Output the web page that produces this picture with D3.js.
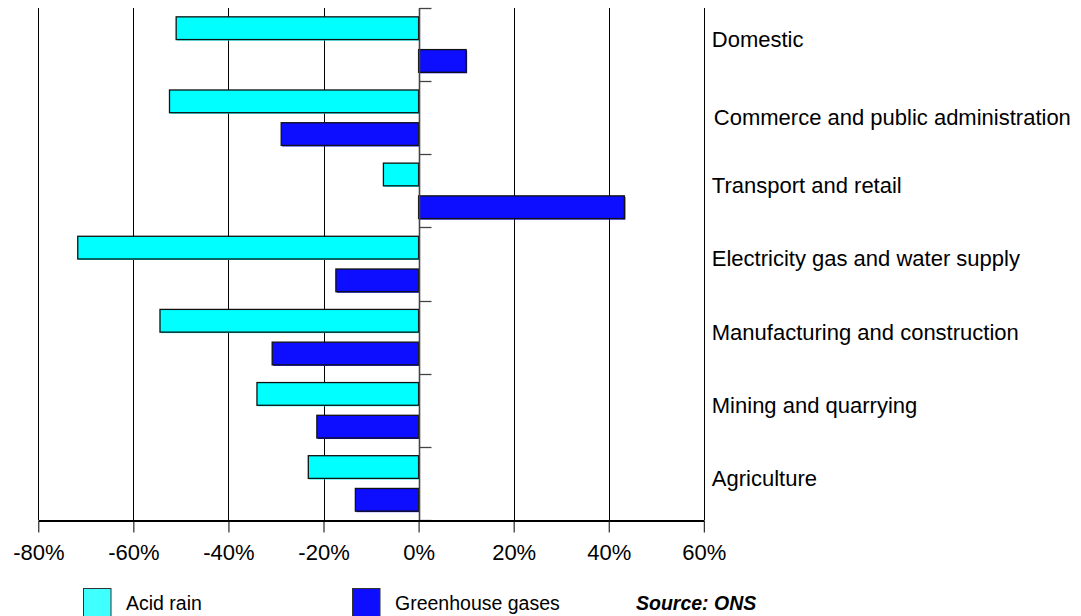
<!DOCTYPE html>
<html>
<head>
<meta charset="utf-8">
<script src="https://cdn.jsdelivr.net/npm/d3@7"></script>
<style>
  html, body { margin: 0; padding: 0; background: #fff; }
  svg { display: block; font-family: "Liberation Sans", Arial, sans-serif; }
</style>
</head>
<body>
<svg id="chart" width="1081" height="616"></svg>
<script>
// Percentage change in emissions by sector
const categories = [
  "Domestic",
  "Commerce and public administration",
  "Transport and retail",
  "Electricity gas and water supply",
  "Manufacturing and construction",
  "Mining and quarrying",
  "Agriculture"
];
const seriesNames = ["Acid rain", "Greenhouse gases"];
const acidRain = [-51, -52.4, -7.4, -71.7, -54.4, -34, -23.2];
const greenhouseGases = [10, -28.9, 43.3, -17.4, -30.8, -21.4, -13.3];
const xTicks = [-80, -60, -40, -20, 0, 20, 40, 60];
const sourceText = "Source: ONS";

const colors = { "Acid rain": "#00FFFF", "Greenhouse gases": "#0D0DFF" };
const swatchColors = { "Acid rain": "#40FFFF", "Greenhouse gases": "#0D0DFF" };

const svg = d3.select("#chart");
const plotTop = 8, plotBottom = 520, plotLeft = 38.3, plotRight = 703.8;

const x = d3.scaleLinear().domain([-80, 60]).range([plotLeft, plotRight]);
const y0 = d3.scaleBand().domain(categories).range([plotTop, plotBottom]).padding(0);
const y1 = d3.scaleBand().domain(seriesNames).range([0, y0.bandwidth()])
  .paddingInner(0.306).paddingOuter(0.27);

const rows = categories.map((c, i) => ({
  category: c,
  values: [
    { series: "Acid rain", value: acidRain[i] },
    { series: "Greenhouse gases", value: greenhouseGases[i] }
  ]
}));

// vertical gridlines
svg.append("g").selectAll("line").data(xTicks.filter(d => d !== 0)).join("line")
  .attr("x1", d => Math.round(x(d)) + 0.5).attr("x2", d => Math.round(x(d)) + 0.5)
  .attr("y1", plotTop).attr("y2", plotBottom)
  .attr("stroke", "#000").attr("stroke-width", 1);

// bars with a slight offset shade
const groups = svg.append("g").selectAll("g").data(rows).join("g")
  .attr("transform", d => `translate(0,${y0(d.category)})`);

groups.selectAll("rect.shade").data(d => d.values).join("rect")
  .attr("class", "shade")
  .attr("x", d => Math.min(x(0), x(d.value)) + 1)
  .attr("y", d => y1(d.series) + 1)
  .attr("width", d => Math.abs(x(d.value) - x(0)))
  .attr("height", y1.bandwidth())
  .attr("fill", d => colors[d.series]);

groups.selectAll("rect.bar").data(d => d.values).join("rect")
  .attr("class", "bar")
  .attr("x", d => Math.min(x(0), x(d.value)))
  .attr("y", d => y1(d.series))
  .attr("width", d => Math.abs(x(d.value) - x(0)))
  .attr("height", y1.bandwidth())
  .attr("fill", d => colors[d.series])
  .attr("stroke", "#111").attr("stroke-width", 1.3);

// zero axis with category tick marks
const x0 = Math.round(x(0)) + 0.5;
svg.append("line")
  .attr("x1", x0).attr("x2", x0).attr("y1", plotTop).attr("y2", plotBottom)
  .attr("stroke", "#444").attr("stroke-width", 1.6);
const boundaries = categories.map(c => y0(c)).concat([plotBottom]);
svg.append("g").selectAll("line").data(boundaries).join("line")
  .attr("x1", x0).attr("x2", x0 + 12)
  .attr("y1", d => Math.round(d) + 0.5).attr("y2", d => Math.round(d) + 0.5)
  .attr("stroke", "#444").attr("stroke-width", 1.3);

// bottom axis
const xAxis = d3.axisBottom(x).tickValues(xTicks).tickFormat(d => d + "%")
  .tickSize(12).tickPadding(12).tickSizeOuter(0);
const axisG = svg.append("g").attr("transform", `translate(0,${plotBottom + 0.5})`).call(xAxis);
axisG.select(".domain").attr("stroke", "#000").attr("stroke-width", 2);
axisG.selectAll(".tick line").attr("stroke", "#000");
axisG.selectAll(".tick text")
  .attr("font-size", 22).attr("fill", "#000")
  .attr("font-family", "'Liberation Sans', Arial, sans-serif");

// category labels to the right of the plot
svg.append("g").selectAll("text").data(categories).join("text")
  .attr("x", (d, i) => x(60) + 8 + (i === 1 ? 2 : 0))
  .attr("y", (d, i) => y0(d) + y0.bandwidth() / 2 + (i === 1 ? 7.5 : 2.4))
  .attr("font-size", 22).attr("fill", "#000")
  .text(d => d);

// legend
const legendX = { "Acid rain": 83.5, "Greenhouse gases": 352.5 };
const legend = svg.append("g").selectAll("g").data(seriesNames).join("g")
  .attr("transform", d => `translate(${legendX[d]},588.5)`);
legend.append("rect")
  .attr("width", 27.5).attr("height", 30)
  .attr("fill", d => swatchColors[d])
  .attr("stroke", "#333").attr("stroke-width", 1);
legend.append("text")
  .attr("x", 42.5).attr("y", 21)
  .attr("font-size", 19.5).attr("fill", "#000")
  .text(d => d);

svg.append("text")
  .attr("x", 636).attr("y", 609.5)
  .attr("font-size", 19.5).attr("font-weight", "bold").attr("font-style", "italic")
  .attr("fill", "#000")
  .text(sourceText);
</script>
</body>
</html>
